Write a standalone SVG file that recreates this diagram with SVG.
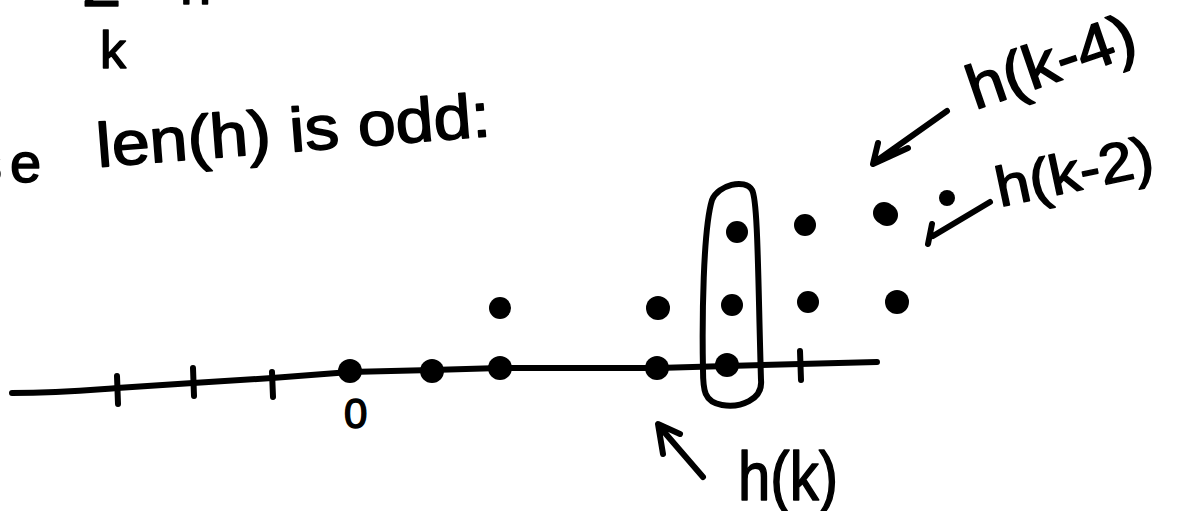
<svg xmlns="http://www.w3.org/2000/svg" width="1177" height="511" viewBox="0 0 1177 511">
<style>
.ink{fill:none;stroke:#000;stroke-width:6;stroke-linecap:round;stroke-linejoin:round}
.dot{fill:#000}
.t{font-family:"Liberation Sans","DejaVu Sans",sans-serif;fill:#000;stroke:#000;stroke-width:1.5;stroke-linejoin:round}
</style>
<rect width="1177" height="511" fill="#fff"/>
<g id="top-fragments">
<text class="t" x="82" y="6" font-size="62">Σ</text>
<text class="t" x="180" y="4" font-size="56">h</text>
<text class="t" x="100" y="68" font-size="52">k</text>
</g>
<g id="heading">
<text class="t" y="182" font-size="56"><tspan x="-26">s</tspan><tspan x="10">e</tspan></text>
<text class="t" font-size="62" textLength="395" lengthAdjust="spacingAndGlyphs" transform="translate(98,167) rotate(-4.5)">len(h) is odd:</text>
</g>
<g id="axis">
<path class="ink" d="M12,393 C60,393 90,390 117,388 L193,383 L272,378 L350,372 L432,370 L500,368 L658,368 L727,366 L800,364 L877,362"/>
<path class="ink" d="M117,376 L118,404 M193,368 L194,396 M272,372 L273,397 M800,351 L801,380"/>
<text class="t" x="344" y="428" font-size="42">0</text>
</g>
<g id="dots">
<circle class="dot" cx="350" cy="371" r="12"/>
<circle class="dot" cx="432" cy="371" r="12"/>
<circle class="dot" cx="500" cy="368" r="12"/>
<circle class="dot" cx="500" cy="308" r="11"/>
<circle class="dot" cx="657" cy="368" r="12"/>
<circle class="dot" cx="658" cy="308" r="12"/>
<circle class="dot" cx="727" cy="365" r="12"/>
<circle class="dot" cx="732" cy="305" r="11"/>
<circle class="dot" cx="737" cy="232" r="11"/>
<circle class="dot" cx="805" cy="225" r="11"/>
<circle class="dot" cx="808" cy="302" r="11"/>
<circle class="dot" cx="887" cy="215" r="11"/>
<circle class="dot" cx="897" cy="302" r="12"/>
<circle class="dot" cx="884" cy="213" r="11"/>
<circle class="dot" cx="947" cy="198" r="8"/>
</g>
<g id="highlight-box">
<path class="ink" stroke-width="5" d="M712,200 C718,185 745,178 752,190 C758,200 758,280 761,380 C763,400 740,408 722,405 C704,402 703,390 703,370 C702,320 703,230 712,200 Z"/>
</g>
<g id="connectors">
<path class="ink" stroke-width="7" d="M947,111 L875,162 M878,143 L873,164 L908,148"/>
<path class="ink" d="M990,202 L933,236 M932,224 L928,244"/>
<path class="ink" d="M703,477 L659,426 M680,434 L658,424 L663,454"/>
</g>
<g id="labels">
<text class="t" font-size="62" textLength="175" lengthAdjust="spacingAndGlyphs" transform="translate(975,110) rotate(-19)">h(k-4)</text>
<text class="t" font-size="56" textLength="160" lengthAdjust="spacingAndGlyphs" transform="translate(1000,207) rotate(-12)">h(k-2)</text>
<text class="t" x="738" y="500" font-size="68" textLength="100" lengthAdjust="spacingAndGlyphs">h(k)</text>
</g>
</svg>
